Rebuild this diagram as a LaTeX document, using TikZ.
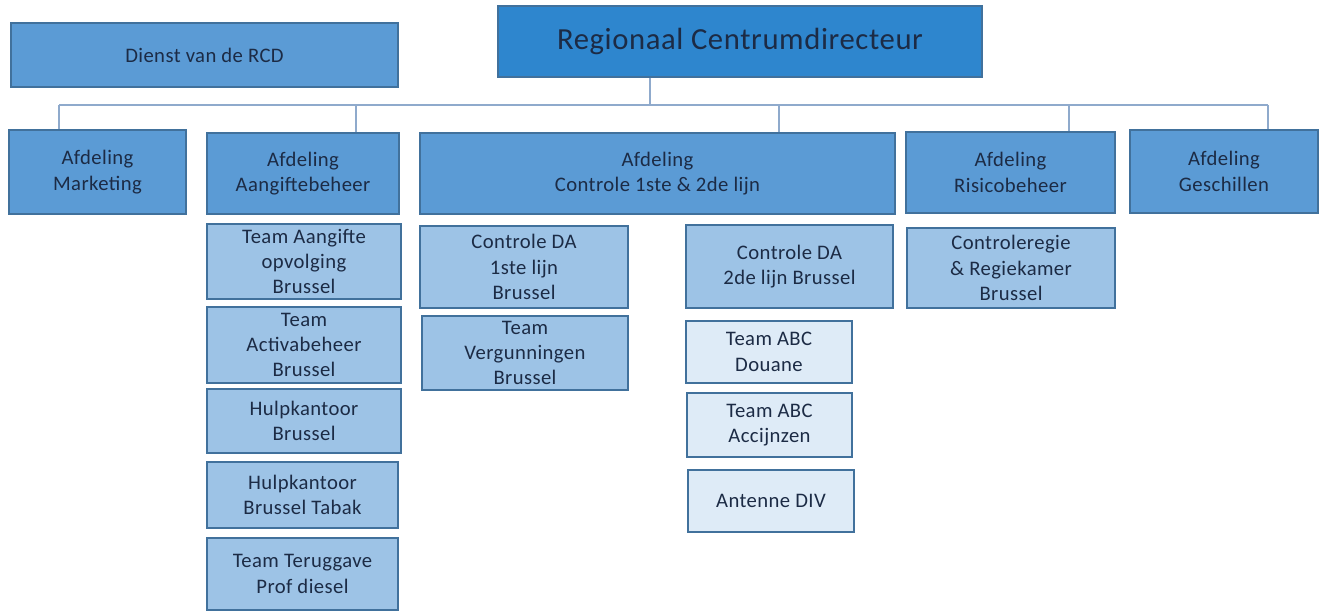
\documentclass[tikz,border=0pt]{standalone}
\usepackage{fontspec}
\setmainfont{Carlito}[LetterSpace=2]
\definecolor{topblue}{HTML}{2E86CE}
\definecolor{midblue}{HTML}{5B9BD5}
\definecolor{lightblue}{HTML}{9DC3E6}
\definecolor{paleblue}{HTML}{DEEBF7}
\definecolor{edgeblue}{HTML}{41719C}
\definecolor{lineblue}{HTML}{8FAACC}
\definecolor{inkblue}{HTML}{1C2B45}

\begin{document}
\begin{tikzpicture}[x=0.75pt,y=-0.75pt,
        box/.style={draw=edgeblue, line width=0.8pt, align=center, text=inkblue,
            inner sep=1pt, font=\fontsize{15.5}{19}\selectfont},
        head/.style={box, fill=topblue, font=\fontsize{23}{27}\selectfont},
        afd/.style={box, fill=midblue},
        team/.style={box, fill=lightblue},
        sub/.style={box, fill=paleblue},
        bw/.style={minimum width=#1*0.75pt},
        bh/.style={minimum height=#1*0.75pt},
        conn/.style={draw=lineblue, line width=1.2pt}]
            \useasboundingbox (0,0) rectangle (1325,612);
            % top row
            \node[head, bw=484, bh=71] (rcd) at (740,41.5) {Regionaal Centrumdirecteur};
            \node[afd, bw=387, bh=64] (dienst) at (204.5,55) {Dienst van de RCD};
            % afdelingen
            \node[afd, bw=177, bh=84] (mkt) at (97.5,172) {Afdeling\\Marketing};
            \node[afd, bw=192, bh=81] (aang) at (303,173.5) {Afdeling\\Aangiftebeheer};
            \node[afd, bw=475, bh=81] (ctrl) at (657.5,173.5) {Afdeling\\Controle 1ste \& 2de lijn};
            \node[afd, bw=209, bh=81] (risk) at (1010.5,172.5) {Afdeling\\Risicobeheer};
            \node[afd, bw=188, bh=83] (gesch) at (1224,171.5) {Afdeling\\Geschillen};
            % teams onder Aangiftebeheer
            \node[team, bw=194, bh=75] (aang1) at (304,261.5) {Team Aangifte\\opvolging\\Brussel};
            \node[team, bw=194, bh=76] (aang2) at (304,345) {Team\\Activabeheer\\Brussel};
            \node[team, bw=194, bh=64] (aang3) at (304,421) {Hulpkantoor\\Brussel};
            \node[team, bw=191, bh=66] (aang4) at (302.5,495) {Hulpkantoor\\Brussel Tabak};
            \node[team, bw=191, bh=72] (aang5) at (302.5,574) {Team Teruggave\\Prof diesel};
            % controle 1ste lijn
            \node[team, bw=208, bh=82] (ctrlA1) at (524,267) {Controle DA\\1ste lijn\\Brussel};
            \node[team, bw=206, bh=74] (ctrlA2) at (525,353) {Team\\Vergunningen\\Brussel};
            % controle 2de lijn
            \node[team, bw=207, bh=83] (ctrlB1) at (789.5,266.5) {Controle DA\\2de lijn Brussel};
            \node[sub, bw=166, bh=62] (ctrlB2) at (769,352) {Team ABC\\Douane};
            \node[sub, bw=165, bh=64] (ctrlB3) at (769.5,425) {Team ABC\\Accijnzen};
            \node[sub, bw=166, bh=62] (ctrlB4) at (771,501) {Antenne DIV};
            % risicobeheer
            \node[team, bw=208, bh=80] (risk1) at (1011,268) {Controleregie\\\& Regiekamer\\Brussel};
            % lijnen
            \coordinate (bus) at (650,105);
            \draw[conn] (rcd.south -| bus) -- (bus);
            \foreach \name/\x in {mkt/59, aang/356, ctrl/779, risk/1069, gesch/1268}{
                \coordinate (drop-\name) at (\x,105);
                \draw[conn] (drop-\name) -- (drop-\name |- \name.north);
            }
            \draw[conn] (drop-mkt) -- (drop-gesch);
\end{tikzpicture}
\end{document}
